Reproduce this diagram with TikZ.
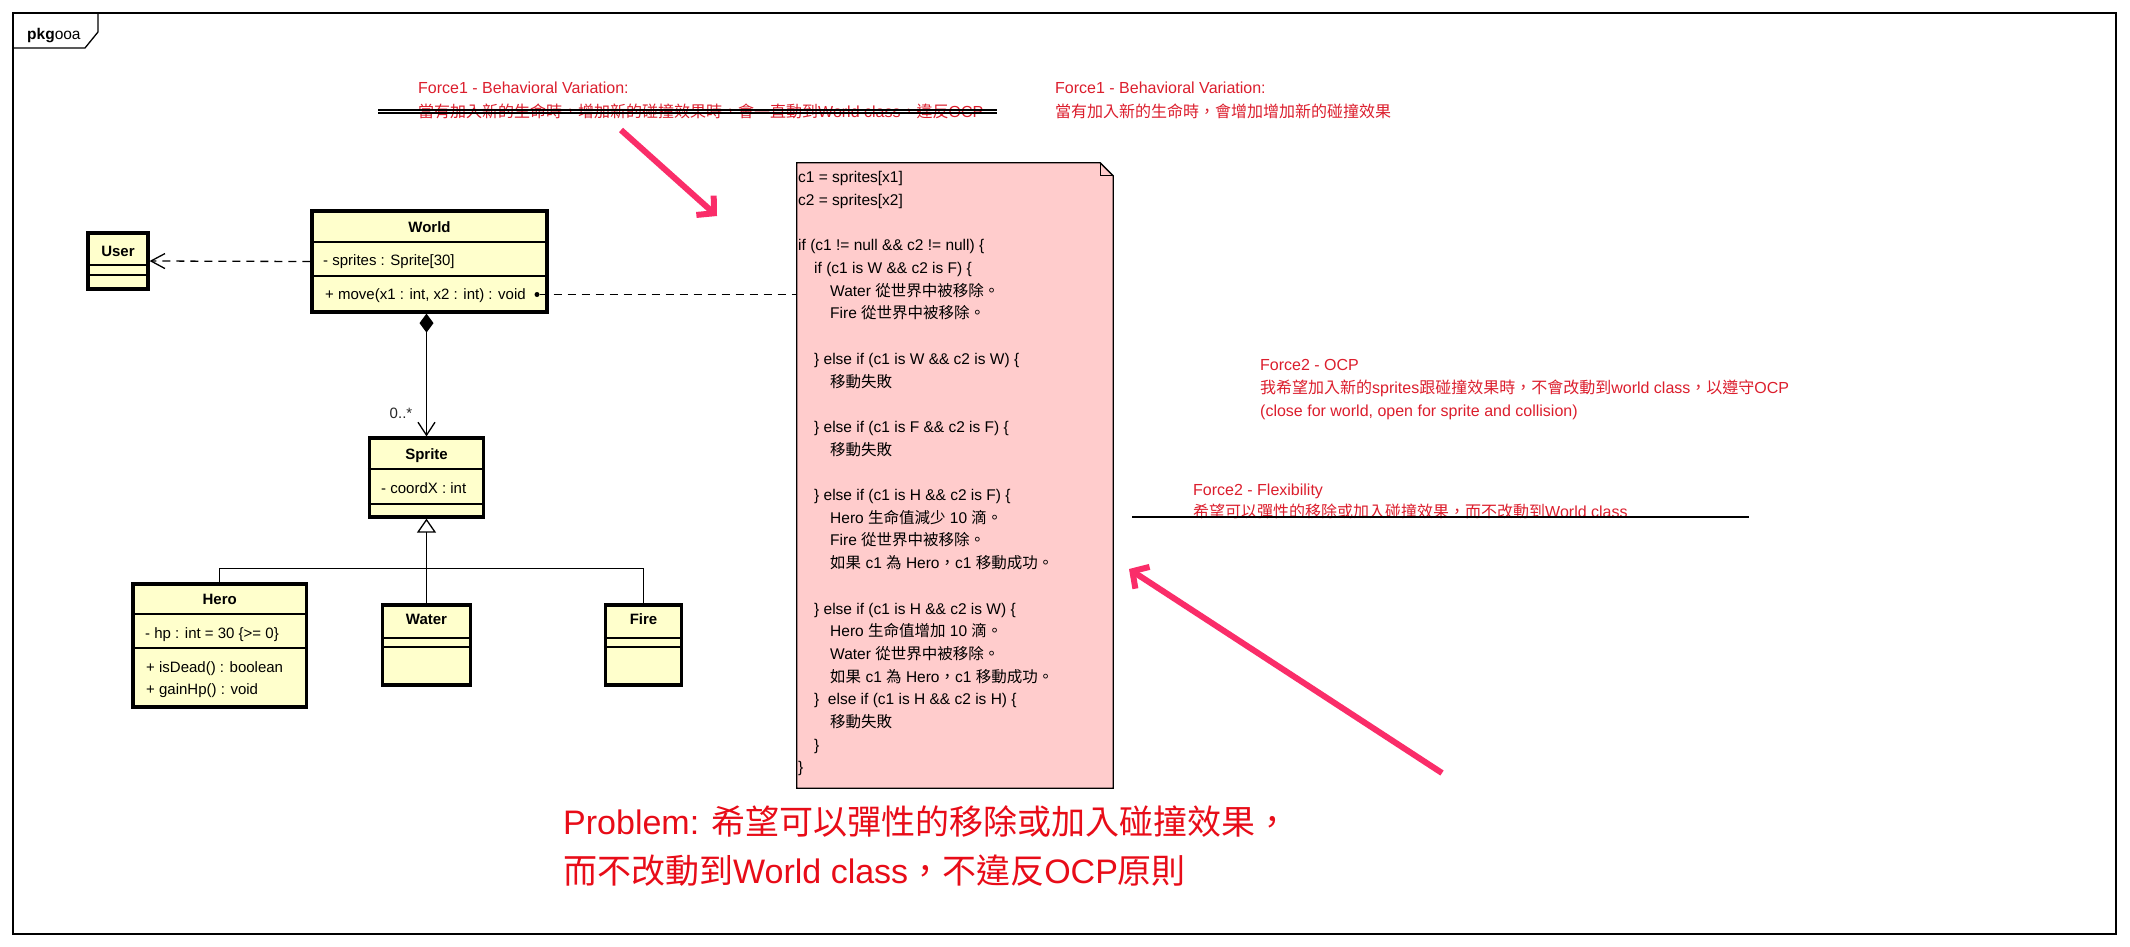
\documentclass[tikz,border=0pt]{standalone}
\usepackage{fontspec}
\setmainfont{Liberation Sans}
\newfontfamily\cjk{Noto Sans CJK TC}
\usetikzlibrary{arrows.meta,calc}
\newcommand{\C}[1]{{\cjk #1}}
\definecolor{clsfill}{RGB}{255,255,204}
\definecolor{notefill}{RGB}{255,204,204}
\definecolor{forcered}{RGB}{220,30,45}
\definecolor{probred}{RGB}{232,12,24}
\definecolor{arrowpink}{RGB}{250,45,105}
\begin{document}
\begin{tikzpicture}[x=1pt,y=-1pt,
  cls/.style={draw, line width=3.2pt, fill=clsfill, inner sep=0pt, rectangle},
  sep/.style={line width=1.2pt},
  clsname/.style={font=\fontsize{15}{18}\selectfont\bfseries, inner sep=0pt, text height=10.7pt, text depth=0pt},
  member/.style={font=\fontsize{15}{18}\selectfont, inner sep=0pt, text height=10.7pt, text depth=0pt, anchor=west},
  conn/.style={line width=1.3pt},
  dep/.style={line width=1.3pt, dash pattern=on 8pt off 6pt},
  forcetxt/.style={text=forcered, font=\fontsize{16}{24}\selectfont, align=left, inner sep=0pt, anchor=north west},
  strike/.style={line width=1.3pt},
  pinkarrow/.style={draw=arrowpink, line width=6pt, -{Straight Barb[length=12pt,width=26pt]}}
]
\fill[white] (0,0) rectangle (2130,946);
\useasboundingbox (0,0) rectangle (2130,946);

% frame
\draw[line width=1.4pt] (13,13) rectangle (2116,934);
\draw[line width=1.3pt] (98,13) -- (98,32) -- (85,48) -- (13,48);
\node[font=\fontsize{15.5}{18}\selectfont, inner sep=0pt, anchor=west, text height=11pt, text depth=0pt] (pkg) at (27,34) {\textbf{pkg}ooa};

% classes
\node[cls, minimum width=60pt, minimum height=56pt] (user) at (118,261) {};
\draw[sep] (user.west |- 0,265) -- (user.east |- 0,265);
\draw[sep] (user.west |- 0,275) -- (user.east |- 0,275);
\node[clsname] (userN) at (118,251) {User};

\node[cls, minimum width=235pt, minimum height=101pt] (world) at (429.5,261.5) {};
\draw[sep] (world.west |- 0,242) -- (world.east |- 0,242);
\draw[sep] (world.west |- 0,276) -- (world.east |- 0,276);
\node[clsname] (worldN) at (429.5,227) {World};
\node[member] (worldA) at (323,260) {- sprites : Sprite[30]};
\node[member] (worldM) at (325,294.5) {+ move(x1 : int, x2 : int) : void};
\node[circle, fill=black, inner sep=0pt, minimum size=5pt] (dot) at (537,294.5) {};

\node[cls, minimum width=114pt, minimum height=79pt] (sprite) at (426.5,477.5) {};
\draw[sep] (sprite.west |- 0,469) -- (sprite.east |- 0,469);
\draw[sep] (sprite.west |- 0,504) -- (sprite.east |- 0,504);
\node[clsname] (spriteN) at (426.5,454) {Sprite};
\node[member] (spriteA) at (381,488) {- coordX : int};

\node[cls, minimum width=173.5pt, minimum height=123pt] (hero) at (219.75,645.5) {};
\draw[sep] (hero.west |- 0,614) -- (hero.east |- 0,614);
\draw[sep] (hero.west |- 0,648) -- (hero.east |- 0,648);
\node[clsname] (heroN) at (219.75,599) {Hero};
\node[member] (heroA) at (145,633) {- hp : int = 30 \{>= 0\}};
\node[member] (heroM1) at (146,667) {+ isDead() : boolean};
\node[member] (heroM2) at (146,689) {+ gainHp() : void};

\node[cls, minimum width=87.5pt, minimum height=80pt] (water) at (426.5,645) {};
\draw[sep] (water.west |- 0,638) -- (water.east |- 0,638);
\draw[sep] (water.west |- 0,647) -- (water.east |- 0,647);
\node[clsname] (waterN) at (426.5,619) {Water};

\node[cls, minimum width=76pt, minimum height=80pt] (fire) at (643.5,645) {};
\draw[sep] (fire.west |- 0,638) -- (fire.east |- 0,638);
\draw[sep] (fire.west |- 0,647) -- (fire.east |- 0,647);
\node[clsname] (fireN) at (643.5,619) {Fire};

% connectors
\draw[dep, -{Straight Barb[length=14pt,width=15pt]}] (world.west) -- (user.east);
\draw[conn, {Diamond[length=19pt,width=14pt]}-{Straight Barb[length=13pt,width=17pt]}] (sprite.north |- world.south) -- (sprite.north);
\node[font=\fontsize{15}{18}\selectfont, inner sep=0pt, text=black!85] (mult) at (401,413) {0..*};
\coordinate (gj) at (426.5,568.3);
\draw[conn, {Triangle[open,length=14pt,width=19pt,fill=white]}-] (sprite.south) -- (gj);
\draw[conn] (hero.north) |- (gj);
\draw[conn] (fire.north) |- (gj);
\draw[conn] (water.north) -- (gj);

% note
\node[inner sep=0pt, minimum width=316pt, minimum height=625pt] (note) at (955,475.5) {};
\draw[line width=1.3pt, fill=notefill] (note.north west) -- ([xshift=-13pt]note.north east) -- ([yshift=-13pt]note.north east) -- (note.south east) -- (note.south west) -- cycle;
\draw[line width=1.1pt] ([xshift=-13pt]note.north east) |- ([yshift=-13pt]note.north east);
\draw[dep] (dot) -- (dot -| note.west);
\node[font=\fontsize{15.5}{22.7}\selectfont, align=left, inner sep=0pt, anchor=north west] (notetext) at (798,167.5) {\rule{0pt}{15pt}c1 = sprites[x1]\\
c2 = sprites[x2]\\
\mbox{}\\
if (c1 != null \&\& c2 != null) \{\\
\hspace*{16pt}if (c1 is W \&\& c2 is F) \{\\
\hspace*{32pt}Water \C{從世界中被移除。}\\
\hspace*{32pt}Fire \C{從世界中被移除。}\\
\mbox{}\\
\hspace*{16pt}\} else if (c1 is W \&\& c2 is W) \{\\
\hspace*{32pt}\C{移動失敗}\\
\mbox{}\\
\hspace*{16pt}\} else if (c1 is F \&\& c2 is F) \{\\
\hspace*{32pt}\C{移動失敗}\\
\mbox{}\\
\hspace*{16pt}\} else if (c1 is H \&\& c2 is F) \{\\
\hspace*{32pt}Hero \C{生命值減少} 10 \C{滴。}\\
\hspace*{32pt}Fire \C{從世界中被移除。}\\
\hspace*{32pt}\C{如果} c1 \C{為} Hero\C{，}c1 \C{移動成功。}\\
\mbox{}\\
\hspace*{16pt}\} else if (c1 is H \&\& c2 is W) \{\\
\hspace*{32pt}Hero \C{生命值增加} 10 \C{滴。}\\
\hspace*{32pt}Water \C{從世界中被移除。}\\
\hspace*{32pt}\C{如果} c1 \C{為} Hero\C{，}c1 \C{移動成功。}\\
\hspace*{16pt}\}\ \ else if (c1 is H \&\& c2 is H) \{\\
\hspace*{32pt}\C{移動失敗}\\
\hspace*{16pt}\}\\
\}};

% forces
\node[forcetxt] (f1old) at (418,78.5) {\rule{0pt}{15pt}Force1 - Behavioral Variation:\\
\C{當有加入新的生命時，增加新的碰撞效果時，會一直動到}World class\C{，違反}OCP};
\draw[strike] (378,110) -- (997,110);
\draw[strike] (378,113) -- (997,113);
\node[forcetxt] (f1new) at (1055,78.5) {\rule{0pt}{15pt}Force1 - Behavioral Variation:\\
\C{當有加入新的生命時，會增加增加新的碰撞效果}};
\node[forcetxt, font=\fontsize{16}{23}\selectfont] (f2ocp) at (1260,355.5) {\rule{0pt}{15pt}Force2 - OCP\\
\C{我希望加入新的}sprites\C{跟碰撞效果時，不會改動到}world class\C{，以遵守}OCP\\
(close for world, open for sprite and collision)};
\node[forcetxt, font=\fontsize{16}{22}\selectfont] (f2flex) at (1193,480.5) {\rule{0pt}{15pt}Force2 - Flexibility\\
\C{希望可以彈性的移除或加入碰撞效果，而不改動到}World class};
\draw[strike] (1132,517) -- (1749,517);

% problem
\node[text=probred, font=\fontsize{34}{49}\selectfont, align=left, inner sep=0pt, anchor=north west] (problem) at (563,804) {\rule{0pt}{30pt}Problem: \C{希望可以彈性的移除或加入碰撞效果，}\\
\C{而不改動到}World class\C{，不違反}OCP\C{原則}};

% pink arrows
\coordinate (a1s) at (621,130);
\coordinate (a1e) at (717,216);
\draw[pinkarrow] (a1s) -- (a1e);
\coordinate (a2s) at (1442,773);
\coordinate (a2e) at (1129,569);
\draw[pinkarrow] (a2s) -- (a2e);
\end{tikzpicture}
\end{document}
